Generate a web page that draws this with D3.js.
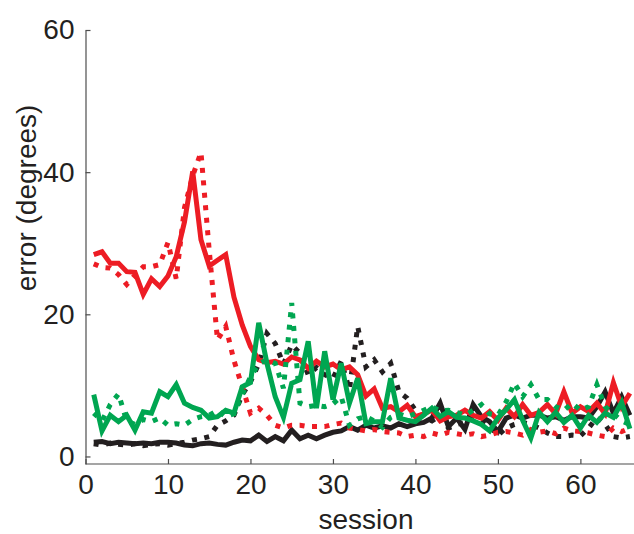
<!DOCTYPE html>
<html>
<head>
<meta charset="utf-8">
<script src="https://cdn.jsdelivr.net/npm/d3@7"></script>
<style>
  body { margin: 0; background: #fff; }
  svg { display: block; font-family: "Liberation Sans", Arial, sans-serif; }
  .axis text { font-size: 28px; fill: #231f20; }
  .axis path, .axis line { stroke: #4d4d4d; stroke-width: 1.2px; }
</style>
</head>
<body>
<div id="vis"></div>
<script>
// session numbers and error values (degrees)
const sessions = d3.range(1, 67);

const redSolid = [28.4, 28.8, 27.2, 27.2, 26.0, 25.9, 22.8, 25.0, 23.9, 25.4,
  28.1, 33.0, 40.1, 30.5, 26.8, 27.6, 28.4, 22.4, 18.5, 15.5,
  13.6, 13.2, 13.4, 13.0, 14.0, 13.6, 12.4, 13.4, 12.6, 13.0,
  12.2, 12.6, 11.5, 8.5, 9.5, 6.8, 7.0, 6.3, 7.2, 5.6,
  6.0, 6.5, 5.0, 5.6, 5.8, 6.5, 5.8, 5.4, 6.3, 5.1,
  6.8, 5.6, 7.3, 5.8, 6.2, 7.3, 6.0, 9.1, 6.1, 7.0,
  6.3, 7.5, 6.0, 10.4, 7.0, 8.9];

const redDotted = [27.1, 26.6, 26.5, 25.6, 24.2, 25.5, 26.7, 26.7, 27.0, 30.1,
  25.0, 35.0, 39.5, 42.8, 29.0, 16.4, 18.3, 13.5, 9.8, 6.1,
  6.8, 5.8, 4.4, 4.0, 4.4, 4.4, 4.2, 4.2, 4.2, 4.5,
  4.7, 4.0, 3.8, 3.6, 3.8, 3.5, 3.4, 3.3, 2.8, 3.0,
  2.8, 3.3, 3.0, 3.4, 3.2, 3.0, 3.2, 2.8, 3.0, 3.4,
  3.5, 3.3, 3.0, 3.8, 3.4, 3.6, 3.2, 4.0, 3.6, 3.5,
  3.3, 3.0, 2.8, 4.0, 3.5, 4.0];

const greenSolid = [8.7, 3.6, 5.8, 4.9, 5.8, 3.7, 6.3, 6.1, 9.1, 8.4,
  10.1, 7.5, 6.9, 6.5, 5.4, 5.6, 6.5, 6.1, 9.8, 10.4,
  18.8, 13.1, 8.4, 5.5, 10.3, 10.8, 16.2, 6.8, 14.8, 8.0,
  13.1, 7.5, 11.0, 4.6, 4.9, 4.9, 11.0, 5.4, 5.1, 4.9,
  5.8, 6.8, 5.6, 6.3, 5.5, 5.4, 5.0, 4.5, 3.6, 5.4,
  6.6, 8.0, 5.1, 2.6, 6.2, 4.9, 6.2, 4.8, 5.8, 4.0,
  5.8, 4.8, 6.1, 5.5, 7.6, 3.9];

const greenDotted = [6.1, 5.0, 7.3, 8.8, 5.0, 4.5, 5.2, 4.9, 5.4, 4.4,
  4.6, 4.4, 5.2, 5.6, 5.8, 6.5, 5.6, 6.0, 8.7, 11.2,
  13.0, 13.6, 13.1, 9.6, 21.6, 7.5, 7.0, 7.2, 7.0, 7.4,
  8.4, 4.4, 5.3, 5.6, 5.0, 4.1, 5.5, 6.0, 5.6, 6.0,
  6.5, 7.0, 6.4, 6.5, 6.2, 5.8, 6.5, 7.3, 6.0, 5.8,
  7.7, 10.3, 8.4, 10.1, 8.0, 8.0, 7.0, 6.5, 7.5, 6.5,
  7.0, 10.1, 7.0, 6.0, 5.0, 4.5];

const blackSolid = [2.0, 2.1, 1.8, 2.0, 1.9, 1.8, 1.9, 1.8, 2.0, 2.0,
  1.9, 1.6, 1.5, 1.8, 1.9, 1.7, 1.6, 2.0, 2.3, 2.2,
  3.0, 2.1, 2.8, 2.2, 3.7, 2.5, 3.0, 2.5, 3.0, 3.4,
  3.6, 4.2, 3.7, 4.4, 4.0, 4.3, 4.0, 4.6, 4.2, 4.6,
  4.8, 5.4, 7.5, 4.2, 5.4, 3.8, 7.3, 5.6, 4.9, 3.5,
  5.4, 5.8, 5.4, 5.8, 5.8, 5.4, 5.6, 5.1, 5.6, 5.6,
  5.4, 7.0, 9.1, 6.1, 8.4, 5.8];

const blackDotted = [1.8, 1.6, 1.9, 1.7, 1.6, 1.8, 1.5, 1.7, 1.8, 1.6,
  1.8, 2.0, 2.3, 2.5, 2.8, 4.4, 5.0, 5.8, 8.7, 10.5,
  13.0, 17.3, 15.9, 13.0, 15.7, 14.5, 11.5, 12.5, 11.5, 11.0,
  13.4, 9.4, 18.3, 12.6, 13.6, 11.9, 13.1, 9.1, 8.2, 6.5,
  5.5, 5.0, 5.8, 4.0, 4.5, 4.8, 5.5, 5.0, 4.2, 3.0,
  4.0, 4.5, 4.8, 4.5, 4.0, 3.3, 2.8, 2.8, 3.0, 2.9,
  4.0, 5.5, 4.5, 2.8, 2.6, 2.8];

const xTicks = [0, 10, 20, 30, 40, 50, 60];
const yTicks = [0, 20, 40, 60];

const RED = '#ed1c24', GREEN = '#00a651', BLACK = '#231f20';

const series = [
  { values: blackDotted, colour: BLACK, dotted: true },
  { values: blackSolid, colour: BLACK, dotted: false },
  { values: redDotted, colour: RED, dotted: true },
  { values: redSolid, colour: RED, dotted: false },
  { values: greenDotted, colour: GREEN, dotted: true },
  { values: greenSolid, colour: GREEN, dotted: false }
];

const width = 634, height = 534;
const svg = d3.select('#vis').append('svg')
  .attr('width', width)
  .attr('height', height);

const x = d3.scaleLinear().domain([0, 66.5]).range([85.5, 634]);
const y = d3.scaleLinear().domain([-1.06, 60]).range([464, 30]);

const line = d3.line()
  .x((d, i) => x(sessions[i]))
  .y(d => y(d));

// lines
svg.append('g').attr('class', 'lines')
  .selectAll('path')
  .data(series)
  .enter()
  .append('path')
  .attr('d', d => line(d.values))
  .attr('fill', 'none')
  .attr('stroke', d => d.colour)
  .attr('stroke-width', d => d.dotted ? 5 : 5)
  .attr('stroke-linejoin', 'miter')
  .attr('stroke-dasharray', d => d.dotted ? '5 7.5' : null);

// axes, ticks point inward
const xAxis = d3.axisBottom(x)
  .tickValues(xTicks)
  .tickSizeInner(-5)
  .tickSizeOuter(0)
  .tickPadding(9);

const yAxis = d3.axisLeft(y)
  .tickValues(yTicks)
  .tickSizeInner(-5)
  .tickSizeOuter(0)
  .tickPadding(11);

svg.append('g')
  .attr('class', 'axis x')
  .attr('transform', `translate(0, ${y(-1.06)})`)
  .call(xAxis)
  .selectAll('text').attr('dy', '0.75em');

svg.append('g')
  .attr('class', 'axis y')
  .attr('transform', `translate(${x(0)}, 0)`)
  .call(yAxis);

svg.select('.axis.x .domain').attr('d', `M${x(0)},0H${width}`);

// axis titles
svg.append('text')
  .attr('x', 366)
  .attr('y', 529)
  .attr('text-anchor', 'middle')
  .attr('font-size', 28)
  .attr('fill', BLACK)
  .text('session');

svg.append('text')
  .attr('transform', 'translate(36, 198) rotate(-90)')
  .attr('text-anchor', 'middle')
  .attr('font-size', 28)
  .attr('fill', BLACK)
  .text('error (degrees)');
</script>
</body>
</html>
